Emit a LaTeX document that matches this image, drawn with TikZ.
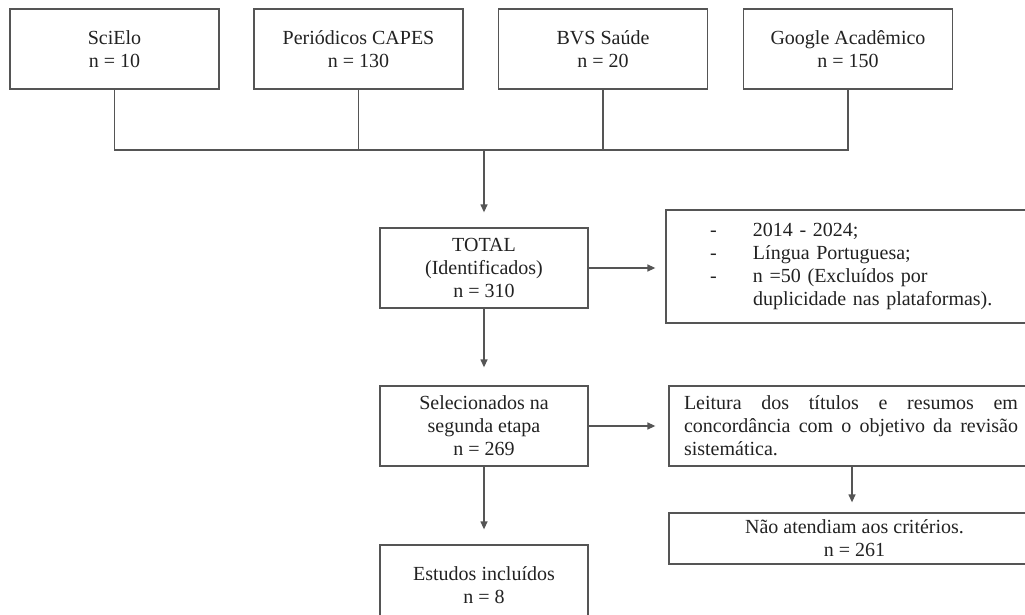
\documentclass[tikz,border=0pt]{standalone}
\usepackage{fontspec}
\setmainfont{Liberation Serif}
\usetikzlibrary{arrows.meta}
\definecolor{linec}{HTML}{555555}
\definecolor{textc}{HTML}{222222}
\tikzset{
  box/.style={draw=linec, line width=1.3pt, inner sep=0pt, text=textc, align=center,
    font=\fontsize{20pt}{23pt}\selectfont},
  topbox/.style={box, minimum width=209pt, minimum height=80pt},
  colbox/.style={box, minimum width=208pt, minimum height=80pt},
  conn/.style={draw=linec, line width=1.3pt},
  arr/.style={conn, -{Triangle[length=8pt,width=7pt]}}
}
\newcommand{\justline}[1]{\leavevmode\hbox to 334pt{#1}}
\begin{document}
\begin{tikzpicture}[x=1pt,y=-1pt]
\fill[white] (0,0) rectangle (1025,615);
\useasboundingbox (0,0) rectangle (1025,615);

\node[topbox] (sci) at (114.5,49) {SciElo\\n = 10};
\node[topbox] (cap) at (358.5,49) {Periódicos CAPES\\n = 130};
\node[topbox] (bvs) at (603,49) {BVS Saúde\\n = 20};
\node[topbox] (gaa) at (848,49) {Google Acadêmico\\n = 150};

\node[colbox] (tot) at (484,268) {TOTAL\\(Identificados)\\n = 310};
\node[box, minimum width=374pt, minimum height=113pt, text width=374pt, align=left] (crit) at (853,266.5)
  {\hspace*{44pt}\makebox[43pt][l]{-}2014 - 2024;\\
   \hspace*{44pt}\makebox[43pt][l]{-}Língua Portuguesa;\\
   \hspace*{44pt}\makebox[43pt][l]{-}n =50 (Excluídos por\\
   \hspace*{87pt}duplicidade nas plataformas).};

\node[colbox] (sel) at (484,426) {Selecionados na\\segunda etapa\\n = 269};
\node[box, minimum width=371pt, minimum height=80pt, text width=341pt, inner xsep=15pt, align=left] (lei) at (854.5,426)
  {\justline{Leitura\hfill dos\hfill títulos\hfill e\hfill resumos\hfill em}\\
   \justline{concordância\hfill com\hfill o\hfill objetivo\hfill da\hfill revisão}\\
   sistemática.};

\node[box, minimum width=371pt, minimum height=51pt] (nao) at (854.5,538.5) {Não atendiam aos critérios.\\n = 261};
\node[colbox] (est) at (484,585) {Estudos incluídos\\n = 8};

\coordinate (bus) at (484,150);
\draw[conn] (sci.south) |- (bus);
\draw[conn] (gaa.south) |- (bus);
\draw[conn] (cap.south) -- (cap.south |- bus);
\draw[conn] (bvs.south) -- (bvs.south |- bus);
\draw[arr, shorten >=15pt] (bus) -- (tot.north);

\draw[arr, shorten >=10pt] (tot.east) -- (tot.east -| crit.west);
\draw[arr, shorten >=18pt] (tot.south) -- (sel.north);
\draw[arr, shorten >=13pt] (sel.east) -- (sel.east -| lei.west);
\draw[arr, shorten >=10pt] (lei.south -| 852,0) -- (nao.north -| 852,0);
\draw[arr, shorten >=15pt] (sel.south) -- (est.north);
\end{tikzpicture}
\end{document}
